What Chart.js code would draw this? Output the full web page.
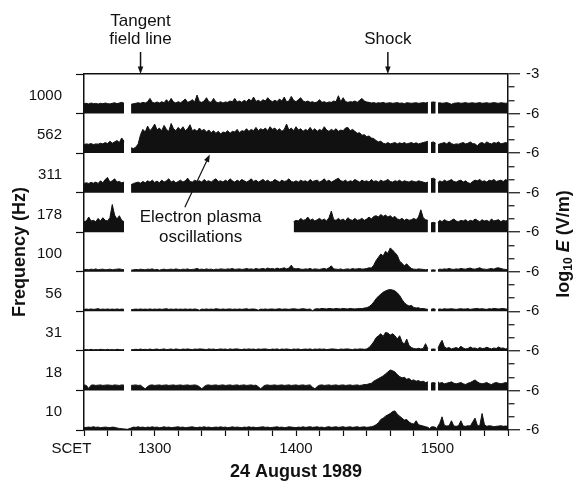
<!DOCTYPE html>
<html>
<head>
<meta charset="utf-8">
<script src="https://cdn.jsdelivr.net/npm/chart.js@4/dist/chart.umd.min.js"></script>
<style>
  html, body { margin: 0; padding: 0; background: #fff; }
</style>
</head>
<body>
<canvas id="grafico" width="576" height="492"></canvas>
<script>
// tempo em minutos depois de 12:30 SCET (grade comum a todos os painéis)
const scet = [
  0, 1, 2, 3, 4, 5, 6, 7, 8, 9, 10, 11, 12, 13, 14, 15, 16, 17,
  18.5,
  20, 21, 22, 23, 24, 25, 26, 27, 28, 29,
  30, 31, 32, 33, 34, 35, 36, 37, 38, 39,
  40, 41, 42, 43, 44, 45, 46, 47, 48, 49,
  50, 51, 52, 53, 54, 55, 56, 57, 58, 59,
  60, 61, 62, 63, 64, 65, 66, 67, 68, 69,
  70, 71, 72, 73, 74, 75, 76, 77, 78, 79,
  80, 81, 82, 83, 84, 85, 86, 87, 88, 89,
  90, 91, 92, 93, 94, 95, 96, 97, 98, 99,
  100, 101, 102, 103, 104, 105, 106, 107, 108, 109,
  110, 111, 112, 113, 114, 115, 116, 117, 118, 119,
  120, 121, 122, 123, 124, 125, 126, 127, 128, 129,
  130, 131, 132, 133, 134, 135, 136, 137, 138, 139,
  140, 141, 142, 143, 144, 145, 146,
  146.7,
  147.3, 148.3, 149.3,
  149.8,
  150.3,
  151, 152, 153, 154, 155, 156, 157, 158, 159, 160,
  161, 162, 163, 164, 165, 166, 167, 168, 169, 170,
  171, 172, 173, 174, 175, 176, 177, 178, 179, 180
];

// canais de frequência (Hz), de cima para baixo
const freqLabels = ['1000', '562', '311', '178', '100', '56', '31', '18', '10'];

// log10 E (V/m) em cada canal; null = sem dados
const e1000 = [
  -5.25, -5.22, -5.27, -5.2, -5.25, -5.23, -5.28, -5.22, -5.25, -5.2,
  -5.24, -5.27, -5.22, -5.18, -5.25, -5.2, -5.15, -5.22,
  null,
  -5.3, -5.25, -5.22, -5.18, -5.22, -5.15, -5.2, -5.1, -4.85, -5.15,
  -5.2, -5.12, -5.2, -5.1, -5.18, -4.95, -5.15, -4.85, -5.12, -5.2,
  -5.1, -5.18, -5.05, -4.9, -5.15, -5.08, -4.95, -5.12, -4.6, -5.1,
  -5.15, -5.05, -4.8, -5.1, -5.15, -4.85, -5.12, -5.18, -5.1, -5.2,
  -5.12, -5.15, -5.05, -5.1, -4.85, -5.12, -5.05, -5.15, -5.0, -5.1,
  -4.9, -5.05, -4.75, -5.08, -5.0, -5.1, -4.95, -5.05, -4.8, -5.0,
  -5.1, -5.0, -5.08, -4.9, -5.05, -4.75, -5.1, -5.05, -4.7, -5.0,
  -5.1, -4.95, -4.8, -5.05, -5.12, -5.05, -5.15, -5.1, -5.18, -5.12,
  -4.95, -5.15, -5.1, -5.18, -5.12, -5.15, -5.05, -5.1, -4.65, -5.1,
  -4.8, -5.08, -5.15, -5.1, -5.12, -5.05, -5.15, -5.0, -4.85, -5.05,
  -5.12, -5.15, -5.2, -5.17, -5.22, -5.18, -5.2, -5.15, -5.22, -5.2,
  -5.18, -5.22, -5.2, -5.17, -5.22, -5.2, -5.25, -5.18, -5.2, -5.22,
  -5.2, -5.18, -5.22, -5.2, -5.17, -5.2, -5.15,
  null,
  -5.15, -5.12, -5.15,
  null,
  -5.2,
  -5.18, -5.22, -5.2, -5.17, -5.22, -5.3, -5.22, -5.2, -5.18, -5.22,
  -5.2, -5.17, -5.22, -5.2, -5.18, -5.22, -5.2, -5.17, -5.22, -5.2,
  -5.18, -5.22, -5.2, -5.17, -5.2, -5.22, -5.18, -5.2, -5.22, -5.2
];
const e562 = [
  -5.35, -5.3, -5.33, -5.28, -5.35, -5.3, -5.32, -5.25, -5.3, -5.2,
  -5.28, -5.1, -5.25, -5.15, -5.05, -5.2, -4.85, -5.1,
  null,
  -5.6, -5.65, -5.55, -5.3, -4.6, -4.2, -4.4, -3.95, -4.3, -4.1,
  -3.8, -4.25, -4.1, -4.3, -3.9, -4.2, -4.35, -3.75, -4.15, -4.3,
  -4.05, -4.25, -4.0, -4.3, -4.15, -3.85, -4.3, -4.2, -4.35, -4.1,
  -4.3, -4.2, -4.4, -4.25, -4.45, -4.3, -4.5, -4.35, -4.55, -4.4,
  -4.45, -4.3, -4.5, -4.35, -4.4, -4.2, -4.45, -4.3, -4.35, -4.15,
  -4.35, -4.2, -4.3, -4.05, -4.3, -4.15, -4.25, -4.1, -4.3, -4.0,
  -4.2, -4.1, -4.3, -4.15, -4.35, -4.2, -3.8, -4.25, -4.1, -4.3,
  -4.0, -4.25, -4.15, -4.35, -4.2, -4.3, -4.05, -4.3, -4.15, -4.35,
  -4.2, -4.3, -4.0, -4.25, -4.35, -4.2, -4.3, -4.15, -4.35, -4.25,
  -4.3, -4.1, -4.05, -4.3, -4.2, -4.35, -4.5, -4.45, -4.65, -4.6,
  -4.75, -4.7, -4.85, -4.9, -5.05, -5.15, -5.1, -5.25, -5.3, -5.2,
  -5.3, -5.25, -5.2, -5.3, -5.22, -5.28, -5.2, -5.3, -5.25, -5.2,
  -5.28, -5.22, -5.3, -5.25, -5.2, -5.15, -5.1,
  null,
  -5.2, -5.15, -5.25,
  null,
  -5.35,
  -5.3, -5.25, -5.2, -5.3, -5.15, -5.28, -5.35, -5.3, -5.32, -5.25,
  -5.2, -5.3, -5.25, -5.15, -5.28, -5.3, -5.45, -5.25, -5.2, -5.3,
  -5.15, -5.25, -5.3, -5.2, -5.25, -5.15, -5.3, -5.25, -5.2, -5.25
];
const e311 = [
  -5.3, -5.25, -5.3, -5.22, -5.28, -5.2, -5.3, -5.1, -5.25, -5.0,
  -4.85, -5.2, -5.1, -4.95, -5.2, -5.15, -5.25, -5.2,
  null,
  -5.4, -5.3, -5.25, -5.2, -5.28, -5.15, -5.25, -5.1, -5.2, -5.05,
  -5.22, -5.12, -5.25, -5.05, -5.2, -5.1, -4.95, -5.2, -5.1, -5.25,
  -5.15, -5.05, -5.2, -5.1, -4.9, -5.15, -5.2, -5.05, -5.15, -5.1,
  -5.2, -5.0, -5.15, -5.1, -5.2, -5.05, -4.95, -5.15, -5.1, -5.2,
  -5.05, -5.15, -4.95, -5.1, -5.2, -5.05, -5.15, -5.0, -5.1, -5.2,
  -5.1, -4.95, -5.15, -5.05, -5.2, -5.1, -5.0, -5.15, -5.05, -5.2,
  -5.15, -5.0, -5.1, -5.2, -5.05, -5.15, -5.1, -4.95, -5.15, -5.2,
  -5.1, -5.2, -5.05, -5.15, -5.1, -5.2, -5.0, -5.15, -5.1, -5.05,
  -5.2, -5.1, -4.95, -5.15, -5.05, -5.2, -5.1, -5.0, -4.9, -5.1,
  -5.15, -5.05, -5.2, -5.1, -5.15, -5.0, -5.1, -5.2, -5.05, -5.15,
  -5.1, -5.2, -5.0, -5.15, -5.1, -5.2, -5.05, -5.15, -5.1, -5.0,
  -5.15, -5.2, -5.1, -5.15, -5.05, -5.2, -5.1, -5.15, -5.2, -5.1,
  -5.15, -5.2, -5.1, -5.15, -5.2, -5.25, -5.2,
  null,
  -4.95, -4.9, -5.0,
  null,
  -5.25,
  -5.1, -5.2, -5.05, -5.15, -5.1, -5.0, -5.15, -5.2, -5.1, -5.05,
  -5.2, -5.1, -5.25, -5.3, -5.15, -5.05, -5.1, -5.0, -5.15, -5.1,
  -5.2, -5.05, -5.1, -5.0, -5.15, -5.1, -5.05, -5.15, -5.0, -5.1
];
const e178 = [
  -5.2, -5.15, -4.85, -5.15, -5.1, -5.2, -4.95, -5.15, -4.9, -5.1,
  -5.15, -4.9, -3.9, -4.7, -5.0, -4.75, -5.1, -5.2,
  null,
  null, null, null, null, null, null, null, null, null, null,
  null, null, null, null, null, null, null, null, null, null,
  null, null, null, null, null, null, null, null, null, null,
  null, null, null, null, null, null, null, null, null, null,
  null, null, null, null, null, null, null, null, null, null,
  null, null, null, null, null, null, null, null, null, null,
  null, null, null, null, null, null, null, null, null, -5.2,
  -5.1, -5.15, -4.95, -5.1, -5.05, -4.85, -5.1, -5.0, -5.15, -5.05,
  -4.95, -5.1, -5.0, -5.15, -4.9, -4.4, -5.05, -5.1, -4.95, -5.1,
  -5.0, -5.15, -4.9, -5.05, -5.1, -4.95, -5.1, -5.05, -4.95, -5.1,
  -5.0, -4.85, -5.0, -4.8, -4.75, -4.85, -4.65, -4.8, -4.7, -4.85,
  -4.75, -4.9, -4.8, -5.0, -5.05, -4.95, -5.1, -5.0, -5.1, -5.05,
  -4.95, -5.05, -4.85, -4.3, -4.9, -5.05, -5.1,
  null,
  -5.3, -5.25, -5.3,
  null,
  -5.25,
  -5.1, -5.2, -5.05, -5.15, -5.2, -5.1, -5.0, -5.15, -5.2, -5.1,
  -5.15, -5.05, -5.2, -5.1, -5.15, -5.0, -5.1, -5.2, -5.05, -5.15,
  -5.1, -5.2, -5.0, -5.15, -5.1, -5.05, -5.2, -5.1, -5.15, -5.1
];
const e100 = [
  -5.85, -5.82, -5.85, -5.8, -5.83, -5.78, -5.85, -5.82, -5.8, -5.85,
  -5.83, -5.8, -5.85, -5.82, -5.8, -5.78, -5.82, -5.85,
  null,
  -5.88, -5.85, -5.82, -5.85, -5.8, -5.83, -5.85, -5.8, -5.82, -5.78,
  -5.85, -5.82, -5.88, -5.83, -5.8, -5.85, -5.82, -5.8, -5.83, -5.78,
  -5.82, -5.85, -5.8, -5.82, -5.78, -5.85, -5.82, -5.8, -5.75, -5.82,
  -5.8, -5.83, -5.78, -5.82, -5.8, -5.85, -5.8, -5.82, -5.78, -5.8,
  -5.82, -5.78, -5.8, -5.75, -5.82, -5.8, -5.78, -5.82, -5.8, -5.75,
  -5.8, -5.78, -5.82, -5.75, -5.8, -5.78, -5.75, -5.8, -5.72, -5.78,
  -5.75, -5.8, -5.72, -5.78, -5.75, -5.7, -5.78, -5.72, -5.5, -5.75,
  -5.78, -5.75, -5.8, -5.82, -5.78, -5.8, -5.75, -5.82, -5.78, -5.8,
  -5.82, -5.78, -5.75, -5.8, -5.7, -5.55, -5.78, -5.8, -5.82, -5.78,
  -5.85, -5.8, -5.78, -5.82, -5.75, -5.8, -5.78, -5.75, -5.8, -5.78,
  -5.75, -5.7, -5.72, -5.5, -5.15, -4.9, -4.65, -4.8, -4.45, -4.6,
  -4.2, -4.35, -4.55, -4.75, -5.2, -5.35, -5.55, -5.4, -5.6, -5.75,
  -5.8, -5.82, -5.78, -5.8, -5.82, -5.85, -5.82,
  null,
  -5.88, -5.85, -5.88,
  null,
  -5.85,
  -5.8, -5.82, -5.78, -5.8, -5.75, -5.8, -5.82, -5.78, -5.8, -5.75,
  -5.78, -5.8, -5.75, -5.72, -5.78, -5.8, -5.75, -5.7, -5.78, -5.8,
  -5.82, -5.78, -5.75, -5.8, -5.72, -5.7, -5.75, -5.8, -5.82, -5.85
];
const e56 = [
  -5.85, -5.83, -5.85, -5.82, -5.85, -5.83, -5.8, -5.85, -5.83, -5.85,
  -5.82, -5.85, -5.83, -5.85, -5.82, -5.85, -5.83, -5.85,
  null,
  -5.88, -5.85, -5.83, -5.85, -5.82, -5.85, -5.83, -5.85, -5.82, -5.85,
  -5.83, -5.85, -5.82, -5.85, -5.83, -5.8, -5.85, -5.83, -5.85, -5.82,
  -5.85, -5.83, -5.85, -5.82, -5.85, -5.83, -5.85, -5.82, -5.85, -5.92,
  -5.83, -5.85, -5.82, -5.85, -5.83, -5.85, -5.8, -5.83, -5.85, -5.82,
  -5.85, -5.83, -5.82, -5.85, -5.83, -5.85, -5.82, -5.85, -5.83, -5.8,
  -5.85, -5.83, -5.82, -5.85, -5.92, -5.83, -5.85, -5.82, -5.85, -5.83,
  -5.82, -5.85, -5.83, -5.8, -5.85, -5.82, -5.83, -5.85, -5.82, -5.8,
  -5.83, -5.85, -5.82, -5.8, -5.83, -5.85, -5.82, -5.95, -5.83, -5.8,
  -5.82, -5.78, -5.8, -5.82, -5.78, -5.8, -5.82, -5.78, -5.8, -5.82,
  -5.78, -5.8, -5.82, -5.78, -5.8, -5.82, -5.8, -5.78, -5.8, -5.75,
  -5.72, -5.65, -5.5, -5.3, -5.05, -4.85, -4.7, -4.55, -4.45, -4.38,
  -4.35, -4.38, -4.45, -4.6, -4.8, -5.1, -5.35, -5.5, -5.6, -5.55,
  -5.7, -5.75, -5.72, -5.8, -5.78, -5.82, -5.85,
  null,
  -5.85, -5.8, -5.85,
  null,
  -5.85,
  -5.82, -5.85, -5.8, -5.83, -5.82, -5.8, -5.83, -5.85, -5.82, -5.8,
  -5.83, -5.82, -5.8, -5.85, -5.82, -5.8, -5.78, -5.82, -5.8, -5.83,
  -5.85, -5.8, -5.82, -5.78, -5.8, -5.82, -5.8, -5.78, -5.82, -5.85
];
const e31 = [
  -5.92, -5.9, -5.92, -5.88, -5.92, -5.9, -5.92, -5.88, -5.9, -5.92,
  -5.88, -5.92, -5.9, -5.92, -5.88, -5.9, -5.92, -5.9,
  null,
  -5.92, -5.9, -5.88, -5.9, -5.86, -5.9, -5.88, -5.9, -5.86, -5.9,
  -5.88, -5.86, -5.9, -5.88, -5.85, -5.9, -5.88, -5.86, -5.9, -5.85,
  -5.88, -5.9, -5.86, -5.88, -5.85, -5.88, -5.9, -5.86, -5.88, -5.85,
  -5.86, -5.88, -5.9, -5.85, -5.88, -5.86, -5.9, -5.88, -5.85, -5.88,
  -5.86, -5.9, -5.85, -5.88, -5.86, -5.85, -5.88, -5.9, -5.86, -5.88,
  -5.85, -5.88, -5.86, -5.9, -5.85, -5.88, -5.86, -5.85, -5.88, -5.9,
  -5.86, -5.88, -5.85, -5.9, -5.86, -5.88, -5.85, -5.88, -5.9, -5.86,
  -5.88, -5.85, -5.9, -5.88, -5.86, -5.88, -5.85, -5.9, -5.86, -5.88,
  -5.85, -5.88, -5.86, -5.9, -5.88, -5.85, -5.86, -5.88, -5.9, -5.86,
  -5.88, -5.86, -5.85, -5.88, -5.9, -5.86, -5.88, -5.85, -5.86, -5.88,
  -5.85, -5.75, -5.55, -5.3, -5.0, -4.85, -4.7, -4.9, -4.6, -4.65,
  -4.8, -4.7, -4.85, -5.1, -4.85, -5.3, -5.5, -5.1, -5.6, -5.75,
  -5.82, -5.85, -5.8, -5.85, -5.82, -5.45, -5.85,
  null,
  -5.88, -5.85, -5.88,
  null,
  -5.8,
  -5.5, -5.2, -5.7, -5.8, -5.75, -5.85, -5.8, -5.75, -5.82, -5.65,
  -5.78, -5.85, -5.82, -5.7, -5.8, -5.78, -5.85, -5.75, -5.82, -5.8,
  -5.72, -5.8, -5.85, -5.78, -5.82, -5.7, -5.8, -5.78, -5.85, -5.82
];
const e18 = [
  -5.58, -5.62, -5.85, -5.6, -5.58, -5.62, -5.6, -5.58, -5.62, -5.6,
  -5.58, -5.6, -5.62, -5.58, -5.6, -5.62, -5.58, -5.6,
  null,
  -5.62, -5.6, -5.58, -5.62, -5.6, -5.75, -5.88, -5.7, -5.6, -5.58,
  -5.62, -5.6, -5.58, -5.62, -5.6, -5.58, -5.62, -5.6, -5.58, -5.62,
  -5.6, -5.58, -5.62, -5.6, -5.58, -5.62, -5.6, -5.58, -5.62, -5.72,
  -5.88, -5.7, -5.6, -5.58, -5.62, -5.6, -5.58, -5.62, -5.6, -5.58,
  -5.62, -5.6, -5.58, -5.62, -5.6, -5.58, -5.62, -5.6, -5.58, -5.62,
  -5.6, -5.58, -5.62, -5.6, -5.72, -5.88, -5.7, -5.6, -5.58, -5.62,
  -5.6, -5.58, -5.62, -5.6, -5.58, -5.62, -5.6, -5.58, -5.62, -5.6,
  -5.58, -5.62, -5.6, -5.58, -5.62, -5.6, -5.58, -5.75, -5.88, -5.7,
  -5.6, -5.58, -5.62, -5.6, -5.58, -5.62, -5.6, -5.58, -5.62, -5.6,
  -5.58, -5.62, -5.6, -5.58, -5.62, -5.6, -5.58, -5.62, -5.6, -5.55,
  -5.55, -5.5, -5.45, -5.3, -5.2, -5.1, -5.0, -4.9, -4.75, -4.6,
  -4.45, -4.5, -4.6, -4.8, -4.95, -5.05, -5.0, -5.15, -5.1, -5.25,
  -5.2, -5.3, -5.25, -5.35, -5.3, -5.4, -5.35,
  null,
  -5.45, -5.4, -5.45,
  null,
  -5.35,
  -5.45, -5.4, -5.5, -5.45, -5.4, -5.35, -5.45, -5.5, -5.45, -5.4,
  -5.5, -5.55, -5.45, -5.4, -5.3, -5.2, -5.35, -5.45, -5.5, -5.45,
  -5.4, -5.5, -5.55, -5.45, -5.4, -5.45, -5.5, -5.45, -5.4, -5.45
];
const e10 = [
  -5.82, -5.8, -5.78, -5.8, -5.75, -5.8, -5.78, -5.82, -5.8, -5.78,
  -5.8, -5.82, -5.78, -5.8, -5.85, -5.88, -5.9, -5.92,
  -5.95,
  -5.85, -5.78, -5.8, -5.76, -5.8, -5.78, -5.82, -5.78, -5.8, -5.76,
  -5.8, -5.78, -5.82, -5.8, -5.76, -5.8, -5.78, -5.82, -5.8, -5.78,
  -5.76, -5.8, -5.78, -5.82, -5.8, -5.78, -5.76, -5.8, -5.82, -5.78,
  -5.8, -5.76, -5.8, -5.78, -5.82, -5.8, -5.78, -5.8, -5.76, -5.8,
  -5.78, -5.82, -5.8, -5.76, -5.8, -5.78, -5.8, -5.82, -5.78, -5.8,
  -5.76, -5.8, -5.78, -5.82, -5.8, -5.78, -5.76, -5.8, -5.78, -5.82,
  -5.8, -5.78, -5.76, -5.8, -5.78, -5.82, -5.8, -5.76, -5.78, -5.8,
  -5.82, -5.78, -5.8, -5.76, -5.8, -5.78, -5.75, -5.8, -5.78, -5.76,
  -5.8, -5.78, -5.82, -5.78, -5.75, -5.8, -5.78, -5.76, -5.8, -5.78,
  -5.75, -5.8, -5.78, -5.76, -5.8, -5.78, -5.75, -5.8, -5.78, -5.76,
  -5.8, -5.78, -5.75, -5.7, -5.6, -5.45, -5.2, -5.1, -4.95, -4.85,
  -4.75, -4.6, -4.55, -4.8, -4.95, -5.1, -5.25, -5.2, -5.4, -5.5,
  -5.55, -5.3, -5.6, -5.65, -5.7, -5.75, -5.8,
  -5.9,
  -5.78, -5.75, -5.8,
  -5.9,
  -5.7,
  -5.5, -5.0, -5.65, -5.7, -5.68, -5.3, -5.7, -5.72, -5.68, -5.3,
  -5.7, -5.72, -5.68, -5.7, -5.4, -5.1, -5.65, -5.7, -4.75, -5.6,
  -5.72, -5.68, -5.7, -5.75, -5.72, -5.7, -5.68, -5.72, -5.7, -5.72
];

// rótulos do eixo de tempo
const xTickValues = [0, 30, 90, 150];
const xTickLabels = ['SCET      ', '1300', '1400', '1500'];
// faixa de cada painel em log10 E
const logEMin = -6;
const logEMax = -3;

// eventos marcados no topo (minutos depois de 12:30)
const tangentTime = 24;
const shockTime = 129;

const series = [e1000, e562, e311, e178, e100, e56, e31, e18, e10];
series.forEach((s, i) => {
  if (s.length !== scet.length) throw new Error('serie ' + freqLabels[i] + ': ' + s.length + ' != ' + scet.length);
});

const nPaineis = series.length;
const faixa = logEMax - logEMin;
const topo = faixa * nPaineis;
const fonte = '"Liberation Sans", Arial, sans-serif';

// cada painel é deslocado para cima no eixo empilhado
const datasets = series.map((vals, i) => {
  const base = faixa * (nPaineis - 1 - i);
  return {
    label: freqLabels[i] + ' Hz',
    data: scet.map((t, k) => ({ x: t, y: vals[k] === null ? null : vals[k] - logEMin + base })),
    borderColor: '#111',
    backgroundColor: '#111',
    borderWidth: 1,
    pointRadius: 0,
    tension: 0,
    spanGaps: false,
    fill: { value: base }
  };
});

const posRotulo = i => faixa * (nPaineis - 1 - i) + 1.35;

function seta(ctx, x1, y1, x2, y2, tam) {
  const ang = Math.atan2(y2 - y1, x2 - x1);
  ctx.beginPath();
  ctx.moveTo(x1, y1);
  ctx.lineTo(x2 - Math.cos(ang) * tam * 0.8, y2 - Math.sin(ang) * tam * 0.8);
  ctx.stroke();
  ctx.beginPath();
  ctx.moveTo(x2, y2);
  ctx.lineTo(x2 - tam * Math.cos(ang - 0.35), y2 - tam * Math.sin(ang - 0.35));
  ctx.lineTo(x2 - tam * Math.cos(ang + 0.35), y2 - tam * Math.sin(ang + 0.35));
  ctx.closePath();
  ctx.fill();
}

// textos e setas de anotação
const anotacoes = {
  id: 'anotacoes',
  afterDraw(chart) {
    const { ctx, chartArea, scales } = chart;
    const x = scales.x, y = scales.y;
    ctx.save();
    ctx.fillStyle = '#111';
    ctx.strokeStyle = '#111';
    ctx.lineWidth = 1.5;
    ctx.font = '17px ' + fonte;
    ctx.textAlign = 'center';
    ctx.textBaseline = 'alphabetic';

    const xt = x.getPixelForValue(tangentTime);
    ctx.fillText('Tangent', xt, 26);
    ctx.fillText('field line', xt, 44);
    seta(ctx, xt, 52, xt, chartArea.top, 8);

    const xs = x.getPixelForValue(shockTime);
    ctx.fillText('Shock', xs, 44);
    seta(ctx, xs, 52, xs, chartArea.top, 8);

    ctx.fillText('Electron plasma', x.getPixelForValue(49.5), y.getPixelForValue(15.75));
    ctx.fillText('oscillations', x.getPixelForValue(49.5), y.getPixelForValue(14.25));
    ctx.lineWidth = 1.2;
    seta(ctx, x.getPixelForValue(42.8), y.getPixelForValue(16.9),
              x.getPixelForValue(53.4), y.getPixelForValue(20.9), 8);

    // título do eixo direito: log10 E (V/m)
    ctx.translate(564, 244);
    ctx.rotate(-Math.PI / 2);
    const partes = [
      ['log', 'bold 18px ' + fonte, 0],
      ['10', 'bold 12px ' + fonte, 5],
      [' ', 'bold 18px ' + fonte, 0],
      ['E', 'italic bold 18px ' + fonte, 0],
      [' (V/m)', 'bold 18px ' + fonte, 0]
    ];
    let w = 0;
    partes.forEach(p => { ctx.font = p[1]; w += ctx.measureText(p[0]).width; });
    let px = -w / 2;
    ctx.textAlign = 'left';
    ctx.textBaseline = 'middle';
    partes.forEach(p => {
      ctx.font = p[1];
      ctx.fillText(p[0], px, p[2]);
      px += ctx.measureText(p[0]).width;
    });
    ctx.restore();
  }
};

new Chart(document.getElementById('grafico'), {
  type: 'line',
  data: { datasets },
  options: {
    responsive: false,
    animation: false,
    events: [],
    layout: { padding: { top: 74, left: 0, right: 0, bottom: 0 } },
    plugins: {
      legend: { display: false },
      tooltip: { enabled: false }
    },
    scales: {
      x: {
        type: 'linear',
        min: 0,
        max: 180,
        afterFit: s => { s.height = 62; },
        afterBuildTicks: s => {
          const t = [];
          for (let v = 0; v <= 180; v += 10) t.push({ value: v });
          s.ticks = t;
        },
        border: { display: true, color: '#111', width: 1.5 },
        grid: { drawOnChartArea: false, tickLength: 6, color: '#111', tickWidth: 1.2 },
        ticks: {
          autoSkip: false,
          maxRotation: 0,
          padding: 4,
          color: '#111',
          font: { family: fonte, size: 15 },
          callback: v => {
            const k = xTickValues.indexOf(v);
            return k >= 0 ? xTickLabels[k] : '';
          }
        },
        title: {
          display: true,
          text: '24 August 1989',
          color: '#111',
          font: { family: fonte, size: 18, weight: 'bold' },
          padding: { top: 0, bottom: 9 }
        }
      },
      y: {
        position: 'left',
        min: 0,
        max: topo,
        afterFit: s => { s.width = 84; },
        afterBuildTicks: s => {
          const t = [];
          for (let i = 0; i <= nPaineis; i++) t.push({ value: faixa * i });
          for (let i = 0; i < nPaineis; i++) t.push({ value: posRotulo(i) });
          s.ticks = t;
        },
        border: { display: true, color: '#111', width: 1.5 },
        grid: {
          drawOnChartArea: false,
          tickLength: 8,
          tickWidth: 1.2,
          tickColor: c => (c.tick && c.tick.value % faixa === 0) ? '#111' : 'rgba(0,0,0,0)'
        },
        ticks: {
          autoSkip: false,
          padding: 14,
          color: '#111',
          font: { family: fonte, size: 15 },
          callback: v => {
            for (let i = 0; i < nPaineis; i++) {
              if (Math.abs(posRotulo(i) - v) < 0.001) return freqLabels[i];
            }
            return '';
          }
        },
        title: {
          display: true,
          text: 'Frequency (Hz)',
          color: '#111',
          font: { family: fonte, size: 18, weight: 'bold' },
          padding: { top: 9, bottom: 0 }
        }
      },
      y2: {
        position: 'right',
        min: 0,
        max: topo,
        afterFit: s => { s.width = 68; },
        afterBuildTicks: s => {
          const t = [];
          for (let v = 0; v <= topo; v++) t.push({ value: v });
          s.ticks = t;
        },
        border: { display: true, color: '#111', width: 1.5 },
        grid: {
          drawOnChartArea: true,
          color: c => (c.tick && c.tick.value === topo) ? '#111' : 'rgba(0,0,0,0)',
          lineWidth: 1.5,
          tickColor: '#111',
          tickWidth: 1.2,
          tickLength: 12,
          tickBorderDash: c => (c.tick && c.tick.value % faixa === 0) ? [] : [6, 40]
        },
        ticks: {
          autoSkip: false,
          padding: 6,
          color: '#111',
          font: { family: fonte, size: 15 },
          callback: v => {
            if (v === topo) return String(logEMax);
            if (v % faixa === 0) return String(logEMin);
            return '';
          }
        }
      }
    }
  },
  plugins: [anotacoes]
});
</script>
</body>
</html>
